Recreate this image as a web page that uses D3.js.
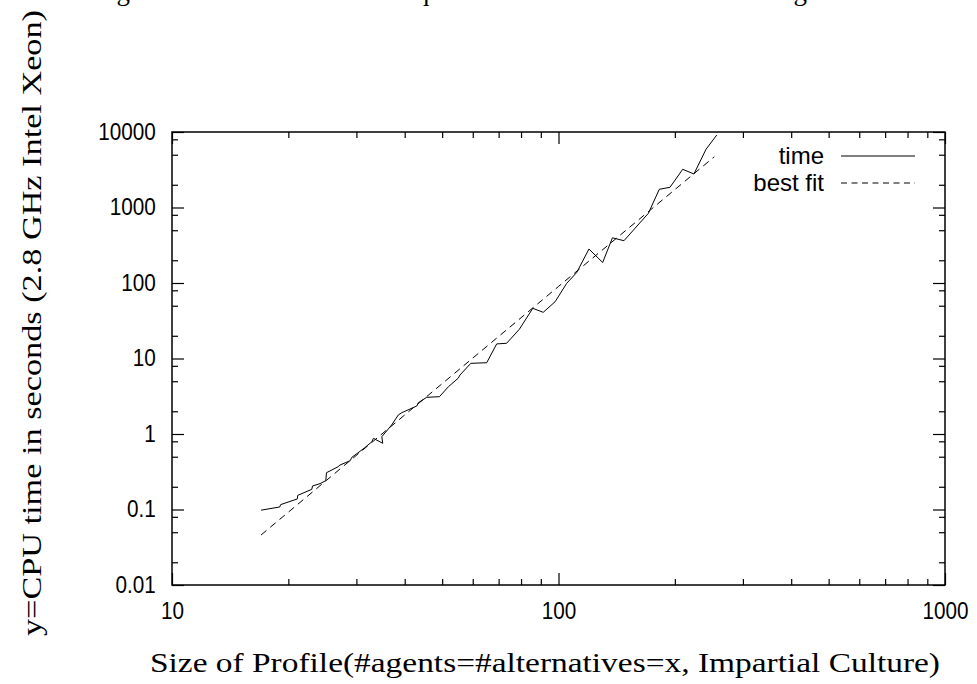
<!DOCTYPE html>
<html>
<head>
<meta charset="utf-8">
<script src="https://cdn.jsdelivr.net/npm/d3@7"></script>
<style>
  body { margin: 0; background: #fff; }
  svg { display: block; }
  .tick text { font-family: "Liberation Sans", Arial, sans-serif; font-size: 23px; fill: #000; }
  .axis path { display: none; }
  .axis line { stroke: #000; stroke-width: 1.2; }
</style>
</head>
<body>
<div id="chart"></div>
<script>
// measured series: CPU time (s) against profile size
const timeX = [17, 19, 19.1, 21.1, 21.15, 23, 23.1, 24.15, 25, 25.1, 26.9, 27.2, 28.9, 29.2,
  31.4, 32.9, 33.2, 35.1, 34.9, 37, 38.5, 39.3, 43, 43.4, 45.6, 49.2, 51.9, 55, 55.6, 59.3,
  65.2, 69.2, 73.4, 79.2, 85.8, 91.3, 98, 105, 111.5, 119.9, 130.1, 137.9, 147.7, 170.8,
  182.3, 194.3, 209.6, 224.1, 240.8, 256.7];
const timeY = [0.098, 0.108, 0.116, 0.138, 0.154, 0.185, 0.205, 0.22, 0.241, 0.307, 0.369,
  0.388, 0.443, 0.491, 0.647, 0.791, 0.877, 0.753, 0.92, 1.315, 1.785, 1.915, 2.35, 2.6,
  3.06, 3.12, 4.23, 5.47, 6.04, 8.63, 8.79, 15.6, 15.9, 24.4, 46.2, 40.9, 56.5, 99, 138,
  282, 187, 397, 363, 837, 1742, 1852, 3206, 2778, 5900, 9120];

// best fit line (straight on log-log)
const fitX = [17, 100, 253];
const fitY = [0.046, 90, 4700];

// tick values
const xMajor = [10, 100, 1000];
const xMinor = [20, 30, 40, 50, 60, 70, 80, 90, 200, 300, 400, 500, 600, 700, 800, 900];
const yMajor = [0.01, 0.1, 1, 10, 100, 1000, 10000];
const yMinor = [0.02, 0.05, 0.08, 0.2, 0.5, 0.8, 2, 5, 8, 20, 50, 80, 200, 500, 800, 2000, 5000, 8000];

const legendNames = ['time', 'best fit'];

const width = 977, height = 684;
const margin = { left: 172, right: 945, top: 132, bottom: 585 };

const svg = d3.select('#chart').append('svg')
  .attr('width', width)
  .attr('height', height);

const x = d3.scaleLog().domain([10, 1000]).range([margin.left, margin.right]);
const y = d3.scaleLog().domain([0.01, 10000]).range([margin.bottom, margin.top]);

// caption of the page above, cut off so only its descenders show
svg.append('text')
  .attr('x', 88)
  .attr('y', 0)
  .attr('textLength', 872)
  .style('font-family', '"Liberation Serif", "Times New Roman", serif')
  .style('font-size', '27px')
  .text('Figure 8.9: CPU time required to Calculate the Dodgson Winner');

// axes: inward ticks on all four sides
const fmt = d => d3.format('~g')(d);

const xAxis = svg.append('g').attr('class', 'axis')
  .attr('transform', `translate(0,${margin.bottom})`)
  .call(d3.axisBottom(x).tickValues(xMajor).tickSize(-12).tickPadding(18).tickFormat(fmt));
xAxis.selectAll('.tick text').attr('transform', 'scale(0.9,1)');

svg.append('g').attr('class', 'axis')
  .attr('transform', `translate(0,${margin.bottom})`)
  .call(d3.axisBottom(x).tickValues(xMinor).tickSize(-6).tickFormat(''));
svg.append('g').attr('class', 'axis')
  .attr('transform', `translate(0,${margin.top})`)
  .call(d3.axisTop(x).tickValues(xMajor).tickSize(-12).tickFormat(''));
svg.append('g').attr('class', 'axis')
  .attr('transform', `translate(0,${margin.top})`)
  .call(d3.axisTop(x).tickValues(xMinor).tickSize(-6).tickFormat(''));

const yAxis = svg.append('g').attr('class', 'axis')
  .attr('transform', `translate(${margin.left},0)`)
  .call(d3.axisLeft(y).tickValues(yMajor).tickSize(-12).tickPadding(18).tickFormat(fmt));
yAxis.selectAll('.tick text').attr('transform', 'scale(0.9,1)');

svg.append('g').attr('class', 'axis')
  .attr('transform', `translate(${margin.left},0)`)
  .call(d3.axisLeft(y).tickValues(yMinor).tickSize(-6).tickFormat(''));
svg.append('g').attr('class', 'axis')
  .attr('transform', `translate(${margin.right},0)`)
  .call(d3.axisRight(y).tickValues(yMajor).tickSize(-12).tickFormat(''));
svg.append('g').attr('class', 'axis')
  .attr('transform', `translate(${margin.right},0)`)
  .call(d3.axisRight(y).tickValues(yMinor).tickSize(-6).tickFormat(''));

// frame
svg.append('rect')
  .attr('x', margin.left).attr('y', margin.top)
  .attr('width', margin.right - margin.left).attr('height', margin.bottom - margin.top)
  .attr('fill', 'none')
  .attr('stroke', '#000')
  .attr('stroke-width', 1.5);

// series
const line = d3.line()
  .x(d => x(d[0]))
  .y(d => y(d[1]));

svg.append('path')
  .datum(timeX.map((v, i) => [v, timeY[i]]))
  .attr('fill', 'none')
  .attr('stroke', '#000')
  .attr('stroke-width', 1)
  .attr('d', line);

svg.append('path')
  .datum(fitX.map((v, i) => [v, fitY[i]]))
  .attr('fill', 'none')
  .attr('stroke', '#000')
  .attr('stroke-width', 1)
  .attr('stroke-dasharray', '7,5')
  .attr('d', line);

// legend
const legend = svg.append('g').attr('transform', 'translate(824,156)');
legendNames.forEach((name, i) => {
  const row = legend.append('g').attr('transform', `translate(0,${i * 27})`);
  row.append('text')
    .attr('x', 0)
    .attr('y', 0)
    .attr('dy', '0.35em')
    .attr('text-anchor', 'end')
    .style('font-family', '"Liberation Sans", Arial, sans-serif')
    .style('font-size', '24px')
    .text(name);
  row.append('line')
    .attr('x1', 17).attr('x2', 91)
    .attr('stroke', '#000')
    .attr('stroke-width', 1)
    .attr('stroke-dasharray', i === 1 ? '6,4.5' : null);
});

// axis titles
svg.append('text')
  .attr('x', 150)
  .attr('y', 672)
  .attr('textLength', 790)
  .attr('lengthAdjust', 'spacingAndGlyphs')
  .style('font-family', '"Liberation Serif", "Times New Roman", serif')
  .style('font-size', '27px')
  .text('Size of Profile(#agents=#alternatives=x, Impartial Culture)');

svg.append('text')
  .attr('transform', 'translate(41,636) rotate(-90)')
  .attr('textLength', 626)
  .attr('lengthAdjust', 'spacingAndGlyphs')
  .style('font-family', '"Liberation Serif", "Times New Roman", serif')
  .style('font-size', '27px')
  .text('y=CPU time in seconds (2.8 GHz Intel Xeon)');
</script>
</body>
</html>
